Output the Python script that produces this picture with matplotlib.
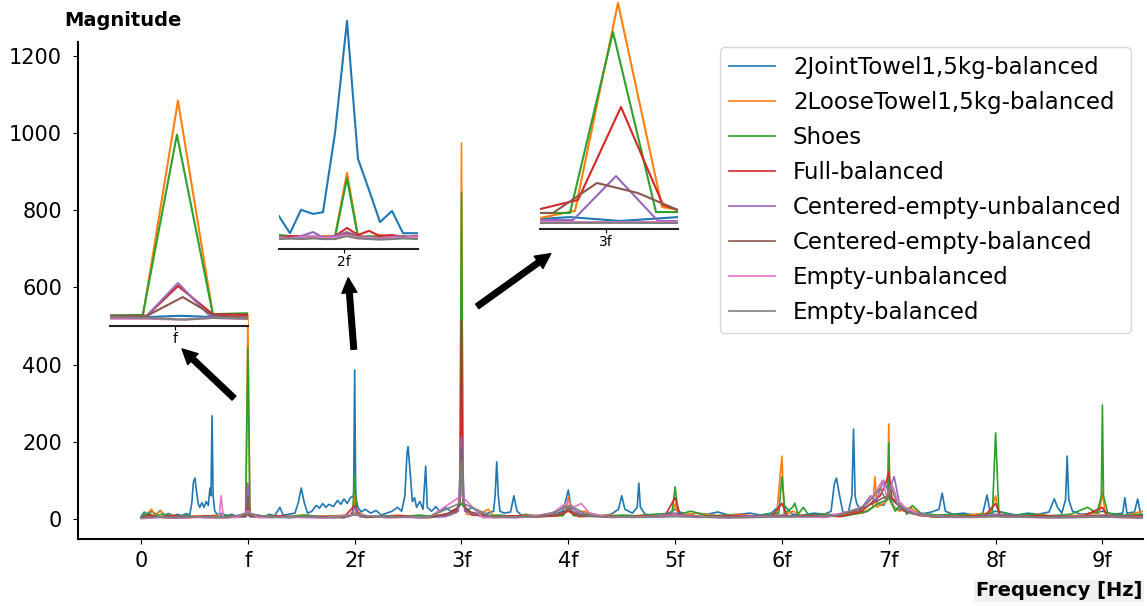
import numpy as np
import matplotlib
matplotlib.use('Agg')
import matplotlib.pyplot as plt

# ---- data (frequency in units of f, magnitude) ----
labels = ['2JointTowel1,5kg-balanced', '2LooseTowel1,5kg-balanced', 'Shoes',
          'Full-balanced', 'Centered-empty-unbalanced', 'Centered-empty-balanced',
          'Empty-unbalanced', 'Empty-balanced']

joint_towel = [(0.00, 5), (0.03, 18), (0.06, 10), (0.10, 20), (0.14, 12), (0.18, 22), (0.22, 10),
               (0.26, 14), (0.30, 8), (0.34, 12), (0.38, 8), (0.42, 14), (0.455, 10), (0.475, 40),
               (0.49, 95), (0.505, 106), (0.52, 70), (0.535, 40), (0.55, 30), (0.57, 42), (0.59, 30),
               (0.61, 45), (0.63, 35), (0.645, 80), (0.655, 60), (0.665, 267), (0.675, 60), (0.69, 20),
               (0.72, 10), (0.76, 15), (0.80, 8), (0.85, 12), (0.90, 6), (0.95, 10), (1.00, 12),
               (1.05, 8), (1.10, 10), (1.15, 5), (1.20, 12), (1.25, 8), (1.30, 30), (1.33, 10),
               (1.38, 12), (1.44, 15), (1.47, 40), (1.50, 80), (1.53, 40), (1.56, 15), (1.60, 20),
               (1.64, 35), (1.67, 28), (1.70, 40), (1.73, 30), (1.76, 38), (1.80, 32), (1.84, 48),
               (1.87, 38), (1.90, 52), (1.93, 40), (1.96, 55), (1.99, 60), (2.00, 386), (2.01, 60),
               (2.03, 30), (2.06, 18), (2.10, 25), (2.15, 15), (2.20, 22), (2.25, 10), (2.30, 15),
               (2.35, 20), (2.40, 30), (2.44, 20), (2.47, 60), (2.49, 170), (2.50, 187), (2.52, 120),
               (2.54, 45), (2.56, 55), (2.58, 30), (2.61, 45), (2.64, 25), (2.665, 137), (2.68, 30),
               (2.72, 20), (2.76, 32), (2.80, 18), (2.85, 30), (2.90, 20), (2.95, 25), (3.00, 40),
               (3.05, 22), (3.10, 30), (3.15, 18), (3.20, 12), (3.25, 15), (3.30, 20), (3.315, 60),
               (3.33, 148), (3.345, 60), (3.36, 20), (3.40, 15), (3.46, 18), (3.49, 60), (3.52, 20),
               (3.56, 10), (3.60, 12), (3.70, 8), (3.80, 12), (3.90, 15), (3.95, 20), (4.00, 75),
               (4.03, 20), (4.10, 12), (4.20, 15), (4.30, 8), (4.40, 12), (4.47, 25), (4.50, 60),
               (4.53, 25), (4.60, 15), (4.645, 30), (4.66, 93), (4.675, 30), (4.72, 12), (4.80, 10),
               (4.90, 8), (5.00, 25), (5.10, 10), (5.20, 15), (5.30, 12), (5.40, 18), (5.50, 10),
               (5.60, 12), (5.70, 15), (5.80, 10), (5.90, 15), (6.00, 40), (6.10, 12), (6.20, 10),
               (6.30, 15), (6.40, 12), (6.46, 20), (6.49, 90), (6.51, 106), (6.54, 60), (6.57, 18),
               (6.62, 15), (6.655, 60), (6.67, 233), (6.685, 60), (6.70, 40), (6.75, 15), (6.80, 20),
               (6.85, 30), (6.90, 40), (6.95, 35), (7.00, 60), (7.05, 30), (7.10, 25), (7.20, 15),
               (7.30, 12), (7.40, 18), (7.47, 25), (7.50, 67), (7.53, 20), (7.60, 12), (7.70, 15),
               (7.80, 10), (7.88, 15), (7.92, 62), (7.95, 15), (8.00, 20), (8.10, 15), (8.20, 10),
               (8.30, 15), (8.40, 12), (8.50, 18), (8.55, 52), (8.58, 30), (8.62, 15), (8.655, 50),
               (8.67, 163), (8.685, 50), (8.72, 20), (8.80, 12), (8.90, 15), (9.00, 20), (9.10, 12),
               (9.19, 15), (9.21, 55), (9.23, 15), (9.30, 18), (9.33, 52), (9.36, 10), (9.40, 12)]

loose_towel = [(0.00, 3), (0.05, 12), (0.10, 25), (0.13, 8), (0.18, 22), (0.22, 6), (0.30, 10),
               (0.40, 5), (0.50, 8), (0.60, 6), (0.70, 10), (0.80, 5), (0.90, 8), (0.98, 10),
               (1.00, 530), (1.02, 10), (1.10, 6), (1.20, 8), (1.35, 5), (1.50, 10), (1.65, 6),
               (1.80, 8), (1.95, 10), (1.99, 20), (2.00, 110), (2.01, 20), (2.10, 8), (2.25, 6),
               (2.40, 10), (2.55, 5), (2.70, 8), (2.85, 12), (2.95, 15), (2.985, 40), (3.00, 974),
               (3.015, 40), (3.05, 12), (3.15, 10), (3.25, 25), (3.30, 8), (3.45, 6), (3.60, 10),
               (3.75, 8), (3.90, 12), (3.97, 15), (4.00, 57), (4.03, 15), (4.15, 20), (4.25, 8),
               (4.40, 10), (4.55, 6), (4.70, 10), (4.85, 8), (4.97, 12), (5.00, 40), (5.03, 10),
               (5.20, 15), (5.40, 8), (5.60, 12), (5.80, 6), (5.95, 10), (6.00, 163), (6.02, 10),
               (6.10, 20), (6.20, 8), (6.40, 12), (6.60, 10), (6.75, 15), (6.85, 30), (6.87, 109),
               (6.89, 30), (6.95, 40), (6.99, 50), (7.00, 246), (7.01, 50), (7.05, 30), (7.10, 20),
               (7.20, 30), (7.30, 12), (7.45, 10), (7.60, 8), (7.80, 12), (7.95, 15), (8.00, 60),
               (8.03, 10), (8.20, 8), (8.40, 12), (8.60, 6), (8.80, 10), (8.97, 15), (9.00, 67),
               (9.03, 10), (9.20, 8), (9.38, 20)]

shoes = [(0.00, 4), (0.06, 15), (0.12, 8), (0.20, 12), (0.30, 6), (0.40, 10), (0.50, 5), (0.60, 8),
         (0.70, 6), (0.80, 10), (0.90, 5), (0.98, 8), (1.00, 445), (1.02, 8), (1.10, 5), (1.25, 8),
         (1.40, 6), (1.55, 10), (1.70, 5), (1.85, 8), (1.98, 10), (2.00, 114), (2.02, 10),
         (2.15, 6), (2.30, 8), (2.45, 5), (2.60, 10), (2.75, 6), (2.90, 10), (2.985, 35),
         (3.00, 847), (3.015, 35), (3.10, 15), (3.20, 8), (3.35, 10), (3.50, 6), (3.65, 8),
         (3.80, 10), (3.95, 8), (4.00, 30), (4.05, 8), (4.20, 12), (4.35, 6), (4.50, 10),
         (4.65, 8), (4.80, 12), (4.97, 15), (5.00, 83), (5.03, 12), (5.15, 20), (5.30, 8),
         (5.50, 10), (5.70, 6), (5.85, 12), (5.97, 15), (6.00, 109), (6.03, 15), (6.10, 30),
         (6.12, 41), (6.15, 12), (6.20, 30), (6.25, 10), (6.40, 12), (6.60, 8), (6.80, 20),
         (6.90, 40), (6.99, 50), (7.00, 197), (7.01, 50), (7.06, 20), (7.12, 40), (7.17, 12),
         (7.22, 35), (7.30, 15), (7.45, 10), (7.60, 12), (7.80, 8), (7.97, 15), (8.00, 223),
         (8.03, 20), (8.15, 10), (8.30, 12), (8.50, 8), (8.70, 12), (8.86, 30), (8.95, 15),
         (8.99, 60), (9.00, 295), (9.01, 60), (9.05, 15), (9.20, 10), (9.38, 12)]

full_balanced = [(0.00, 3), (0.08, 10), (0.15, 5), (0.30, 8), (0.45, 4), (0.60, 8), (0.75, 5),
                 (0.90, 7), (0.98, 8), (1.00, 85), (1.02, 8), (1.15, 5), (1.30, 8), (1.50, 4),
                 (1.70, 7), (1.90, 5), (2.00, 35), (2.05, 8), (2.25, 5), (2.45, 8), (2.65, 4),
                 (2.85, 10), (2.97, 30), (2.99, 60), (3.00, 515), (3.01, 60), (3.03, 30), (3.10, 10),
                 (3.30, 6), (3.50, 8), (3.70, 5), (3.90, 8), (4.00, 20), (4.10, 6), (4.30, 8),
                 (4.50, 5), (4.70, 8), (4.90, 6), (5.00, 55), (5.05, 8), (5.30, 6), (5.60, 9),
                 (5.90, 5), (6.00, 40), (6.05, 6), (6.30, 9), (6.55, 6), (6.75, 20), (6.85, 45),
                 (6.92, 60), (6.97, 90), (7.00, 122), (7.03, 55), (7.08, 40), (7.15, 20), (7.30, 8),
                 (7.60, 6), (7.90, 8), (8.00, 40), (8.05, 6), (8.40, 8), (8.80, 5), (9.00, 30),
                 (9.05, 6), (9.38, 8)]

centered_unbal = [(0.00, 2), (0.10, 6), (0.25, 3), (0.40, 7), (0.60, 3), (0.80, 6), (0.98, 5),
                  (1.00, 93), (1.02, 5), (1.20, 6), (1.40, 3), (1.60, 7), (1.80, 4), (1.95, 6),
                  (2.00, 30), (2.05, 5), (2.30, 7), (2.60, 3), (2.85, 6), (2.97, 20), (3.00, 212),
                  (3.03, 20), (3.20, 6), (3.50, 3), (3.80, 8), (3.90, 20), (3.95, 30), (4.00, 30),
                  (4.05, 25), (4.10, 15), (4.20, 8), (4.50, 5), (4.80, 7), (5.00, 15), (5.20, 4),
                  (5.60, 7), (6.00, 10), (6.30, 5), (6.60, 15), (6.75, 30), (6.83, 60), (6.88, 45),
                  (6.95, 100), (7.00, 70), (7.05, 110), (7.10, 40), (7.20, 20), (7.40, 8),
                  (7.80, 5), (8.00, 12), (8.40, 5), (8.80, 7), (9.00, 10), (9.38, 4)]

centered_bal = [(0.00, 2), (0.12, 5), (0.30, 3), (0.50, 6), (0.70, 3), (0.90, 5), (0.99, 8),
                (1.00, 57), (1.01, 8), (1.30, 4), (1.60, 6), (1.90, 3), (2.00, 15), (2.10, 4),
                (2.40, 6), (2.70, 3), (2.95, 20), (2.985, 45), (3.00, 184), (3.015, 45), (3.05, 20),
                (3.30, 4), (3.60, 6), (3.90, 10), (4.00, 25), (4.10, 8), (4.40, 4), (4.80, 6),
                (5.00, 10), (5.40, 4), (5.80, 6), (6.00, 8), (6.40, 4), (6.70, 20), (6.85, 40),
                (6.95, 55), (7.00, 60), (7.05, 45), (7.15, 20), (7.40, 5), (7.80, 4), (8.00, 8),
                (8.50, 4), (9.00, 8), (9.38, 3)]

empty_unbal = [(0.00, 1), (0.20, 4), (0.40, 2), (0.60, 5), (0.73, 3), (0.75, 60), (0.77, 3),
               (0.90, 4), (1.00, 20), (1.10, 3), (1.40, 5), (1.70, 2), (2.00, 12), (2.30, 3),
               (2.70, 5), (3.00, 60), (3.20, 3), (3.60, 5), (3.85, 15), (3.95, 35), (4.00, 45),
               (4.05, 30), (4.12, 40), (4.20, 15), (4.40, 4), (4.80, 6), (5.00, 8), (5.50, 3),
               (6.00, 6), (6.40, 4), (6.70, 25), (6.80, 40), (6.88, 70), (6.94, 100), (6.98, 60),
               (7.03, 90), (7.08, 50), (7.15, 30), (7.30, 10), (7.60, 4), (8.00, 6), (8.50, 3),
               (9.00, 5), (9.38, 2)]

empty_bal = [(0.00, 2), (0.15, 5), (0.35, 3), (0.55, 6), (0.80, 3), (1.00, 15), (1.20, 4),
             (1.50, 6), (1.80, 3), (2.00, 10), (2.30, 4), (2.70, 6), (2.98, 40), (3.00, 150),
             (3.02, 40), (3.30, 4), (3.70, 6), (3.90, 20), (4.00, 35), (4.08, 25), (4.20, 8),
             (4.60, 4), (5.00, 6), (5.50, 3), (6.00, 5), (6.50, 8), (6.75, 30), (6.85, 55),
             (6.92, 80), (6.97, 50), (7.02, 85), (7.08, 40), (7.20, 15), (7.50, 5), (8.00, 6),
             (8.60, 3), (9.00, 5), (9.38, 3)]

series = [joint_towel, loose_towel, shoes, full_balanced, centered_unbal, centered_bal,
          empty_unbal, empty_bal]

xtick_pos = list(range(10))
xtick_labels = ['0', 'f', '2f', '3f', '4f', '5f', '6f', '7f', '8f', '9f']

# zoom around f
zoom1_x = [[0.9812, 0.9919, 1.0015, 1.0110, 1.0212],
           [0.9812, 0.9907, 1.0009, 1.0110, 1.0212],
           [0.9812, 0.9907, 1.0006, 1.0110, 1.0212],
           [0.9812, 0.9919, 1.0009, 1.0110, 1.0212],
           [0.9812, 0.9919, 1.0009, 1.0101, 1.0212],
           [0.9812, 0.9919, 1.0023, 1.0110, 1.0212],
           [0.9812, 0.9919, 1.0015, 1.0110, 1.0212],
           [0.9812, 0.9919, 1.0030, 1.0110, 1.0212]]
zoom1_y = [[9, 11, 14, 11, 9],
           [10, 12, 520, 18, 15],
           [15, 16, 440, 18, 20],
           [11, 14, 84, 18, 16],
           [9, 14, 91, 14, 11],
           [14, 14, 58, 16, 9],
           [7, 7, 5, 9, 7],
           [11, 9, 5, 9, 7]]

# zoom around 2f
zoom2_grid = [1.974, 1.9784, 1.9828, 1.9876, 1.9916, 1.9964, 2.0012, 2.0056, 2.01, 2.0144,
              2.0192, 2.0236, 2.0296]
zoom2_y = [[56, 27, 67, 60, 63, 198, 390, 154, 101, 46, 65, 27, 27],
           [22, 20, 22, 20, 22, 22, 130, 22, 20, 24, 22, 22, 20],
           [24, 22, 20, 22, 20, 20, 121, 20, 22, 20, 22, 20, 22],
           [20, 22, 22, 20, 20, 22, 36, 24, 31, 22, 24, 20, 22],
           [20, 19, 22, 29, 20, 22, 29, 22, 20, 19, 20, 22, 20],
           [18, 19, 18, 20, 18, 19, 26, 22, 18, 19, 18, 20, 18],
           [19, 18, 20, 22, 19, 20, 24, 20, 19, 18, 20, 19, 21],
           [17, 18, 17, 18, 17, 17, 22, 18, 17, 16, 17, 18, 17]]

# zoom around 3f
zoom3_x = [[2.9736, 2.9856, 3.0056, 3.0288],
           [2.9736, 2.9876, 3.0048, 3.0224, 3.0288],
           [2.9736, 2.9856, 3.0028, 3.0200, 3.0288],
           [2.9736, 2.9888, 3.0060, 3.0228, 3.0288],
           [2.9736, 2.9868, 3.0040, 3.0208, 3.0288],
           [2.9736, 2.9788, 2.9964, 3.0128, 3.0288],
           [2.9736, 3.0048, 3.0288],
           [2.9736, 3.0048, 3.0288]]
zoom3_y = [[44, 52, 35, 52],
           [48, 79, 987, 96, 83],
           [70, 70, 860, 74, 74],
           [87, 127, 533, 105, 83],
           [39, 39, 231, 35, 35],
           [70, 70, 201, 157, 83],
           [31, 30, 31],
           [26, 27, 26]]

colors = plt.rcParams['axes.prop_cycle'].by_key()['color'][:8]

W, H = 1147, 606
fig = plt.figure(figsize=(W / 100, H / 100), dpi=100)


def px_box(x0, y0, x1, y1):
    # pixel box (top-left origin) -> figure fraction rect
    return [x0 / W, (H - y1) / H, (x1 - x0) / W, (y1 - y0) / H]


ax = fig.add_axes(px_box(78, 42, 1143, 539))
for s, c, lab in zip(series, colors, labels):
    d = np.array(s)
    ax.plot(d[:, 0], d[:, 1], color=c, lw=1.2, label=lab)

ax.set_xlim(-0.59, 9.38)
ax.set_ylim(-52, 1236)
ax.set_xticks(xtick_pos)
ax.set_xticklabels(xtick_labels)
ax.set_yticks(range(0, 1201, 200))
ax.tick_params(labelsize=15)
ax.tick_params(axis='x', pad=5)
ax.tick_params(axis='y', pad=8)
ax.spines['top'].set_visible(False)
ax.spines['right'].set_visible(False)
ax.spines['left'].set_linewidth(1.5)
ax.spines['bottom'].set_linewidth(1.5)

ax.legend(loc='upper right', fontsize=16.5, bbox_to_anchor=(0.9887, 0.990),
          borderaxespad=0, labelspacing=0.52)

fig.text(123 / W, 1 - 21 / H, 'Magnitude', fontsize=14, fontweight='bold', ha='center', va='center')
fig.text(1059 / W, 1 - 591 / H, 'Frequency [Hz]', fontsize=14, fontweight='bold', ha='center',
         va='center', bbox=dict(facecolor='#f0f0f0', edgecolor='none', pad=1))


def make_inset(rect, xs, ys, xlim, ylim, tick, tick_label):
    ins = fig.add_axes(rect)
    for x, y, c in zip(xs, ys, colors):
        ins.plot(x, y, color=c, lw=1.5)
    ins.set_xlim(*xlim)
    ins.set_ylim(*ylim)
    ins.set_xticks([tick])
    ins.set_xticklabels([tick_label])
    ins.set_yticks([])
    for sp in ['top', 'right', 'left']:
        ins.spines[sp].set_visible(False)
    ins.spines['bottom'].set_linewidth(1.5)
    ins.spines['bottom'].set_color('#222222')
    ins.tick_params(axis='x', labelsize=10, length=3, pad=1)
    return ins


make_inset(px_box(110, 90, 248, 326), zoom1_x, zoom1_y, (0.9812, 1.0212), (-10, 545), 1.0, 'f')
make_inset(px_box(279, 15, 418, 249), [zoom2_grid] * 8, zoom2_y, (1.974, 2.0296), (0, 400), 2.0, '2f')
make_inset(px_box(540, 0, 678, 229), zoom3_x, zoom3_y, (2.9736, 3.0288), (0, 1000), 3.0, '3f')

# arrows pointing to the zoomed views (figure pixel coords)
arrows = [((236, 400), (180, 347)), ((354, 352), (348, 275)), ((475, 308), (553, 252))]
for (tx, ty), (hx, hy) in arrows:
    fig.add_artist(matplotlib.patches.FancyArrowPatch(
        (tx / W, 1 - ty / H), (hx / W, 1 - hy / H), transform=fig.transFigure,
        arrowstyle='simple,head_width=1.2,head_length=1.2,tail_width=0.45',
        mutation_scale=9, color='black'))

fig.savefig('out.png', dpi=100)
